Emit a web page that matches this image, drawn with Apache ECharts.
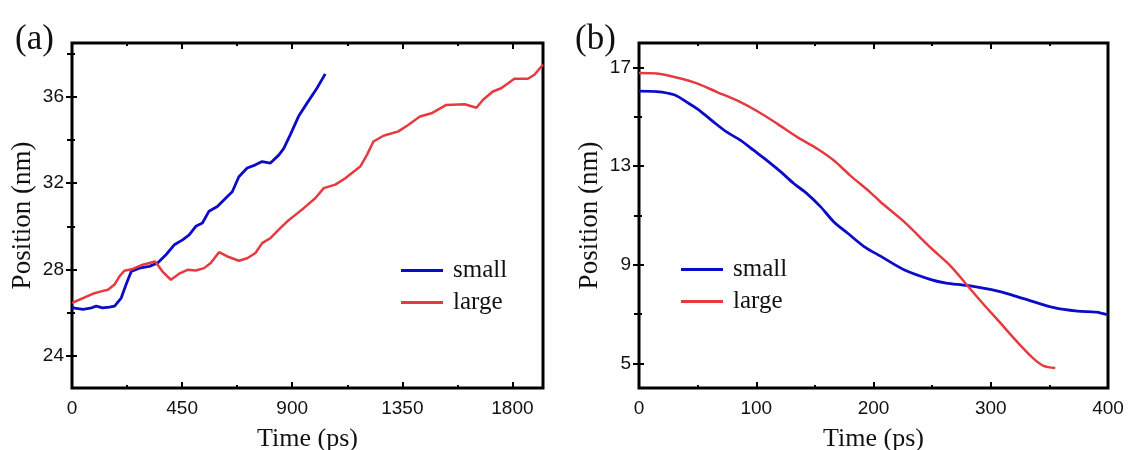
<!DOCTYPE html>
<html>
<head>
<meta charset="utf-8">
<script src="https://cdn.jsdelivr.net/npm/echarts@6/dist/echarts.min.js"></script>
<style>
html,body{margin:0;padding:0;background:#fff;}
#chart{width:1129px;height:450px;}
</style>
</head>
<body>
<div id="chart"></div>
<script>
// ---------- Panel (a) data ----------
const aSmallTime = [0, 11, 45, 75, 99, 125, 153, 174, 201, 221, 242, 275, 316, 350, 384, 418, 452, 479, 506, 533, 560, 594, 628, 655, 682, 716, 750, 777, 811, 845, 865, 892, 926, 960, 1001, 1035];
const aSmallPos  = [26.25, 26.2, 26.15, 26.2, 26.3, 26.22, 26.25, 26.3, 26.67, 27.3, 27.9, 28.06, 28.14, 28.3, 28.68, 29.14, 29.37, 29.6, 30.0, 30.15, 30.7, 30.92, 31.3, 31.6, 32.3, 32.7, 32.85, 33.0, 32.93, 33.3, 33.6, 34.24, 35.1, 35.7, 36.4, 37.07];
const aLargeTime = [0, 11, 45, 85, 119, 147, 174, 194, 214, 248, 282, 316, 340, 370, 404, 438, 472, 506, 540, 567, 601, 635, 682, 716, 750, 777, 811, 845, 879, 913, 947, 994, 1029, 1076, 1117, 1178, 1205, 1232, 1273, 1334, 1374, 1422, 1469, 1530, 1605, 1653, 1680, 1720, 1754, 1808, 1863, 1890, 1925];
const aLargePos  = [26.45, 26.5, 26.67, 26.87, 26.98, 27.06, 27.3, 27.68, 27.94, 28.02, 28.19, 28.3, 28.37, 27.9, 27.52, 27.8, 27.98, 27.95, 28.06, 28.3, 28.8, 28.6, 28.4, 28.52, 28.76, 29.22, 29.45, 29.84, 30.22, 30.53, 30.84, 31.3, 31.77, 31.93, 32.23, 32.77, 33.3, 33.93, 34.2, 34.4, 34.7, 35.09, 35.24, 35.63, 35.66, 35.5, 35.87, 36.25, 36.4, 36.84, 36.84, 37.03, 37.5];
const aXTicks = [0, 450, 900, 1350, 1800];
const aXMinor = [225, 675, 1125, 1575];
const aYTicks = [24, 28, 32, 36];
const aYMinor = [26, 30, 34, 38];

// ---------- Panel (b) data ----------
const bSmallTime = [0, 15, 30, 41, 52, 64, 75, 87, 98, 109, 121, 132, 143, 155, 166, 178, 192, 206, 226, 249, 262, 280, 306, 328, 354, 374, 390, 400];
const bSmallPos  = [16.05, 16.03, 15.9, 15.59, 15.25, 14.78, 14.38, 14.04, 13.64, 13.24, 12.77, 12.3, 11.9, 11.35, 10.75, 10.28, 9.74, 9.35, 8.8, 8.4, 8.26, 8.16, 7.93, 7.63, 7.26, 7.12, 7.08, 6.97];
const bLargeTime = [0, 15, 32, 50, 67, 84, 101, 118, 135, 152, 166, 180, 197, 206, 226, 249, 266, 280, 294, 308, 323, 337, 345, 355];
const bLargePos  = [16.78, 16.76, 16.6, 16.35, 16.0, 15.66, 15.23, 14.72, 14.18, 13.71, 13.24, 12.63, 11.95, 11.55, 10.75, 9.68, 8.94, 8.16, 7.39, 6.65, 5.85, 5.17, 4.9, 4.81];
const bXTicks = [0, 100, 200, 300, 400];
const bXMinor = [50, 150, 250, 350];
const bYTicks = [5, 9, 13, 17];
const bYMinor = [7, 11, 15];

const seriesNames = ['small', 'large'];
const panelLabels = ['(a)', '(b)'];

const SANS = '"Liberation Sans", Arial, sans-serif';
const SERIF = '"Liberation Serif", "Times New Roman", serif';
const BLUE = '#0b0bc8';
const RED = '#e53a3f';

function zip(xs, ys) { return xs.map((x, i) => [x, ys[i]]); }

function ax(gridIndex, position, min, max, ticks, len, extra) {
  return Object.assign({
    type: 'value', gridIndex: gridIndex, position: position, min: min, max: max,
    axisLine: { show: false },
    splitLine: { show: false },
    axisTick: { show: true, inside: true, length: len, customValues: ticks,
      lineStyle: { color: '#000', width: 2 } },
    axisLabel: { show: false }
  }, extra || {});
}
function lbl(vals, margin) {
  return { show: true, customValues: vals, fontFamily: SANS, fontSize: 19, color: '#111', margin: margin,
    formatter: function (v) { return String(v); } };
}

const xAxes = [], yAxes = [];
function buildPanel(g, xr, yr, xT, xM, yT, yM) {
  const base = xAxes.length;
  xAxes.push(ax(g, 'bottom', xr[0], xr[1], xT, 6, {
    axisLabel: lbl(xT, 11), name: 'Time (ps)', nameLocation: 'middle', nameGap: 38,
    nameTextStyle: { fontFamily: SERIF, fontSize: 26, color: '#111' } }));
  xAxes.push(ax(g, 'bottom', xr[0], xr[1], xM, 3));
  xAxes.push(ax(g, 'top', xr[0], xr[1], xT, 6));
  xAxes.push(ax(g, 'top', xr[0], xr[1], xM, 3));
  yAxes.push(ax(g, 'left', yr[0], yr[1], yT, 5, {
    axisLabel: lbl(yT, 8), name: 'Position (nm)', nameLocation: 'middle', nameGap: 36,
    nameTextStyle: { fontFamily: SERIF, fontSize: 27, color: '#111' } }));
  yAxes.push(ax(g, 'left', yr[0], yr[1], yM, 3));
  yAxes.push(ax(g, 'right', yr[0], yr[1], yT, 6));
  yAxes.push(ax(g, 'right', yr[0], yr[1], yM, 5));
  return base;
}
const aIdx = buildPanel(0, [0, 1925], [22.5, 38.5], aXTicks, aXMinor, aYTicks, aYMinor);
const bIdx = buildPanel(1, [0, 400], [4, 18], bXTicks, bXMinor, bYTicks, bYMinor);

function line(name, data, color, xi, width, smooth) {
  return { type: 'line', name: name, data: data, xAxisIndex: xi, yAxisIndex: xi,
    showSymbol: false, symbol: 'none', smooth: smooth, clip: true,
    lineStyle: { color: color, width: width }, itemStyle: { color: color } };
}

const legendCommon = {
  orient: 'vertical', icon: 'rect', itemWidth: 42, itemHeight: 3, itemGap: 7,
  data: seriesNames,
  textStyle: { fontFamily: SERIF, fontSize: 25, color: '#111', lineHeight: 25, padding: [0, 0, 0, 5] },
  selectedMode: false
};

const gridCommon = { top: 43, bottom: 62, show: true, borderColor: '#000', borderWidth: 3,
  backgroundColor: 'transparent', containLabel: false, outerBoundsMode: 'none' };

const option = {
  animation: false,
  backgroundColor: '#fff',
  title: [
    { text: panelLabels[0], left: 10, top: 17, textStyle: { fontFamily: SERIF, fontSize: 35, fontWeight: 'normal', color: '#111' } },
    { text: panelLabels[1], left: 570, top: 17, textStyle: { fontFamily: SERIF, fontSize: 35, fontWeight: 'normal', color: '#111' } }
  ],
  grid: [
    Object.assign({}, gridCommon, { left: 72, right: 586 }),
    Object.assign({}, gridCommon, { left: 639, right: 21 })
  ],
  legend: [
    Object.assign({}, legendCommon, { left: 396, top: 253 }),
    Object.assign({}, legendCommon, { left: 676, top: 252 })
  ],
  xAxis: xAxes,
  yAxis: yAxes,
  series: [
    line(seriesNames[0], zip(aSmallTime, aSmallPos), BLUE, aIdx, 2.8, false),
    line(seriesNames[1], zip(aLargeTime, aLargePos), RED, aIdx, 2.5, false),
    line(seriesNames[0], zip(bSmallTime, bSmallPos), BLUE, bIdx, 2.8, 0.3),
    line(seriesNames[1], zip(bLargeTime, bLargePos), RED, bIdx, 2.5, 0.3)
  ]
};

const chart = echarts.init(document.getElementById('chart'), null, { renderer: 'canvas' });
chart.setOption(option);
</script>
</body>
</html>
